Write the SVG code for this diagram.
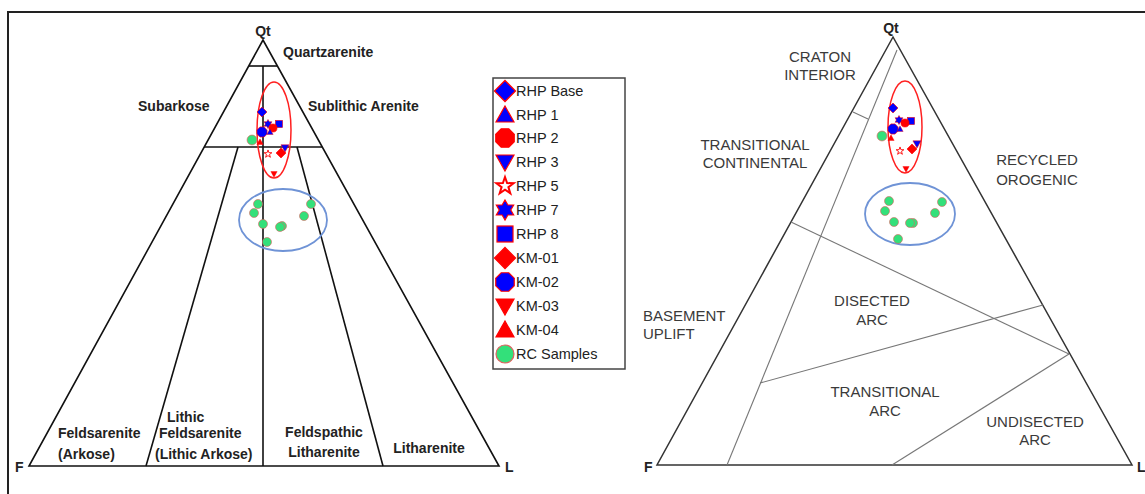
<svg xmlns="http://www.w3.org/2000/svg" xmlns:xlink="http://www.w3.org/1999/xlink" width="1145" height="494" viewBox="0 0 1145 494">
<style>
.bg{fill:#fff}
.frame{stroke:#222;stroke-width:2;fill:none}
.edge{stroke:#111;stroke-width:1.6;fill:none}
.redge{stroke:#333;stroke-width:1.5;fill:none}
.inner{stroke:#777;stroke-width:1.1;fill:none}
.lbl{font-family:"Liberation Sans",Arial,sans-serif;font-weight:bold;font-size:14px;fill:#222}
.rl{font-family:"Liberation Sans",Arial,sans-serif;font-size:15px;fill:#3a3a3a}
.leg{font-family:"Liberation Sans",Arial,sans-serif;font-size:14.5px;fill:#222}
.b{fill:#0000ff;stroke:#ff0000;stroke-width:1.2}
.r{fill:#ff0000;stroke:#ff0000;stroke-width:1.2}
.w{fill:#fff;stroke:#ff0000;stroke-width:2}
.g{fill:#33e07a;stroke:#e06060;stroke-width:1.2}
.rell{fill:none;stroke:#ff2020;stroke-width:1.5}
.bell{fill:none;stroke:#6f93d6;stroke-width:1.8}
</style>
<defs>
<polygon id="dia" points="0,-10 10,0 0,10 -10,0"/>
<polygon id="tri" points="0,-9 9,7 -9,7"/>
<polygon id="dtri" points="0,9 9,-7 -9,-7"/>
<polygon id="oct" points="9.24,3.83 3.83,9.24 -3.83,9.24 -9.24,3.83 -9.24,-3.83 -3.83,-9.24 3.83,-9.24 9.24,-3.83"/>
<polygon id="star" points="0,-9 2.1,-2.9 8.6,-2.8 3.4,1.1 5.3,7.3 0,3.6 -5.3,7.3 -3.4,1.1 -8.6,-2.8 -2.1,-2.9"/>
<polygon id="hex" points="0,-10 2.89,-5 8.66,-5 5.77,0 8.66,5 2.89,5 0,10 -2.89,5 -8.66,5 -5.77,0 -8.66,-5 -2.89,-5"/>
<rect id="sq" x="-8" y="-8" width="16" height="16"/>
<circle id="cir" r="9"/>
</defs>
<rect class="bg" x="0" y="0" width="1145" height="494"/>
<g id="frame"><path class="frame" d="M8,494 V12 H1145"/></g>

<g id="connectors">
<!-- left triangle -->
<polygon class="edge" points="263,40 29,466 499,466"/>
<line class="edge" x1="249" y1="66" x2="277" y2="66"/>
<line class="edge" x1="263" y1="66" x2="263" y2="466"/>
<line class="edge" x1="204" y1="147" x2="322" y2="147"/>
<line class="edge" x1="238" y1="147" x2="146" y2="466"/>
<line class="edge" x1="297" y1="147" x2="383" y2="466"/>
<!-- right triangle -->
<polygon class="redge" points="893,37 657,465 1132,465"/>
<line class="inner" x1="897" y1="50" x2="727" y2="465"/>
<line class="inner" x1="853" y1="112" x2="868" y2="119"/>
<line class="inner" x1="791" y1="222" x2="1069" y2="354"/>
<line class="inner" x1="760" y1="383" x2="1043" y2="305"/>
<line class="inner" x1="892" y1="465" x2="1069" y2="354"/>
</g>

<g id="left-labels">
<text class="lbl" x="263" y="36" text-anchor="middle">Qt</text>
<text class="lbl" x="283" y="57">Quartzarenite</text>
<text class="lbl" x="138" y="111">Subarkose</text>
<text class="lbl" x="308" y="111">Sublithic Arenite</text>
<text class="lbl" x="58" y="438">Feldsarenite</text>
<text class="lbl" x="58" y="459">(Arkose)</text>
<text class="lbl" x="167" y="422">Lithic</text>
<text class="lbl" x="159" y="438">Feldsarenite</text>
<text class="lbl" x="155" y="459">(Lithic Arkose)</text>
<text class="lbl" x="324" y="437" text-anchor="middle">Feldspathic</text>
<text class="lbl" x="324" y="457" text-anchor="middle">Litharenite</text>
<text class="lbl" x="429" y="453" text-anchor="middle">Litharenite</text>
<text class="lbl" x="15" y="472">F</text>
<text class="lbl" x="505" y="472">L</text>
</g>

<g id="right-labels">
<text class="lbl" x="891" y="33" text-anchor="middle">Qt</text>
<text class="rl" x="820" y="62" text-anchor="middle">CRATON</text>
<text class="rl" x="820" y="80" text-anchor="middle">INTERIOR</text>
<text class="rl" x="755" y="150" text-anchor="middle">TRANSITIONAL</text>
<text class="rl" x="755" y="168" text-anchor="middle">CONTINENTAL</text>
<text class="rl" x="1037" y="165" text-anchor="middle">RECYCLED</text>
<text class="rl" x="1037" y="185" text-anchor="middle">OROGENIC</text>
<text class="rl" x="643" y="321">BASEMENT</text>
<text class="rl" x="643" y="339">UPLIFT</text>
<text class="rl" x="872" y="306" text-anchor="middle">DISECTED</text>
<text class="rl" x="872" y="325" text-anchor="middle">ARC</text>
<text class="rl" x="885" y="397" text-anchor="middle">TRANSITIONAL</text>
<text class="rl" x="885" y="416" text-anchor="middle">ARC</text>
<text class="rl" x="1035" y="427" text-anchor="middle">UNDISECTED</text>
<text class="rl" x="1035" y="445" text-anchor="middle">ARC</text>
<text class="lbl" x="644" y="472">F</text>
<text class="lbl" x="1137" y="472">L</text>
</g>

<g id="left-data">
<ellipse class="rell" cx="274" cy="130" rx="17" ry="48"/>
<ellipse class="bell" cx="283" cy="220" rx="44" ry="31"/>
<use href="#dia" class="b" transform="translate(262,112) scale(0.5)"/>
<use href="#hex" class="b" transform="translate(268,124) scale(0.45)"/>
<use href="#sq" class="b" transform="translate(279,124) scale(0.45)"/>
<use href="#cir" class="r" transform="translate(273,128) scale(0.45)"/>
<use href="#oct" class="b" transform="translate(262,132) scale(0.55)"/>
<use href="#tri" class="b" transform="translate(270,132) scale(0.35)"/>
<use href="#tri" class="r" transform="translate(260,142) scale(0.35)"/>
<use href="#star" class="w" transform="translate(268,154) scale(0.45)"/>
<use href="#dia" class="r" transform="translate(281,153) scale(0.5)"/>
<use href="#dtri" class="b" transform="translate(285,148) scale(0.45)"/>
<use href="#dtri" class="r" transform="translate(274,174) scale(0.35)"/>
<use href="#cir" class="g" transform="translate(252,140) scale(0.55)"/>
<use href="#cir" class="g" transform="translate(258,204) scale(0.5)"/>
<use href="#cir" class="g" transform="translate(254,213) scale(0.5)"/>
<use href="#cir" class="g" transform="translate(263,224) scale(0.5)"/>
<use href="#cir" class="g" transform="translate(282,226) scale(0.5)"/>
<use href="#cir" class="g" transform="translate(280,227) scale(0.5)"/>
<use href="#cir" class="g" transform="translate(311,204) scale(0.5)"/>
<use href="#cir" class="g" transform="translate(304,216) scale(0.5)"/>
<use href="#cir" class="g" transform="translate(267,242) scale(0.5)"/>
</g>

<g id="right-data">
<ellipse class="rell" cx="905" cy="127" rx="17" ry="46"/>
<ellipse class="bell" cx="910" cy="214" rx="45" ry="31"/>
<use href="#dia" class="b" transform="translate(893,108) scale(0.5)"/>
<use href="#hex" class="b" transform="translate(899,120) scale(0.45)"/>
<use href="#sq" class="b" transform="translate(911,121) scale(0.45)"/>
<use href="#cir" class="r" transform="translate(905,123) scale(0.45)"/>
<use href="#oct" class="b" transform="translate(893,129) scale(0.55)"/>
<use href="#tri" class="b" transform="translate(900,129) scale(0.35)"/>
<use href="#tri" class="r" transform="translate(891,138) scale(0.35)"/>
<use href="#star" class="w" transform="translate(900,151) scale(0.45)"/>
<use href="#dia" class="r" transform="translate(912,149) scale(0.5)"/>
<use href="#dtri" class="b" transform="translate(917,144) scale(0.45)"/>
<use href="#dtri" class="r" transform="translate(906,169) scale(0.35)"/>
<use href="#cir" class="g" transform="translate(882,136) scale(0.55)"/>
<use href="#cir" class="g" transform="translate(889,201) scale(0.5)"/>
<use href="#cir" class="g" transform="translate(885,211) scale(0.5)"/>
<use href="#cir" class="g" transform="translate(894,222) scale(0.5)"/>
<use href="#cir" class="g" transform="translate(913,223) scale(0.5)"/>
<use href="#cir" class="g" transform="translate(910,223) scale(0.5)"/>
<use href="#cir" class="g" transform="translate(898,239) scale(0.5)"/>
<use href="#cir" class="g" transform="translate(942,202) scale(0.5)"/>
<use href="#cir" class="g" transform="translate(935,213) scale(0.5)"/>
</g>

<g id="legend">
<rect x="493" y="78" width="132" height="291" fill="#fff" stroke="#444" stroke-width="1.5"/>
<use href="#dia" class="b" transform="translate(505,91) scale(1.05)"/>
<text class="leg" x="516" y="96">RHP Base</text>
<use href="#tri" class="b" transform="translate(505,115)"/>
<text class="leg" x="516" y="120">RHP 1</text>
<use href="#oct" class="r" transform="translate(505,138)"/>
<text class="leg" x="516" y="143">RHP 2</text>
<use href="#dtri" class="b" transform="translate(505,162)"/>
<text class="leg" x="516" y="167">RHP 3</text>
<use href="#star" class="w" transform="translate(505,186)"/>
<text class="leg" x="516" y="191">RHP 5</text>
<use href="#hex" class="b" transform="translate(505,210)"/>
<text class="leg" x="516" y="215">RHP 7</text>
<use href="#sq" class="b" transform="translate(505,234)"/>
<text class="leg" x="516" y="239">RHP 8</text>
<use href="#dia" class="r" transform="translate(505,258) scale(1.05)"/>
<text class="leg" x="516" y="263">KM-01</text>
<use href="#oct" class="b" transform="translate(505,282)"/>
<text class="leg" x="516" y="287">KM-02</text>
<use href="#dtri" class="r" transform="translate(505,306)"/>
<text class="leg" x="516" y="311">KM-03</text>
<use href="#tri" class="r" transform="translate(505,330)"/>
<text class="leg" x="516" y="335">KM-04</text>
<use href="#cir" class="g" transform="translate(505,354)"/>
<text class="leg" x="516" y="359">RC Samples</text>
</g>
</svg>
